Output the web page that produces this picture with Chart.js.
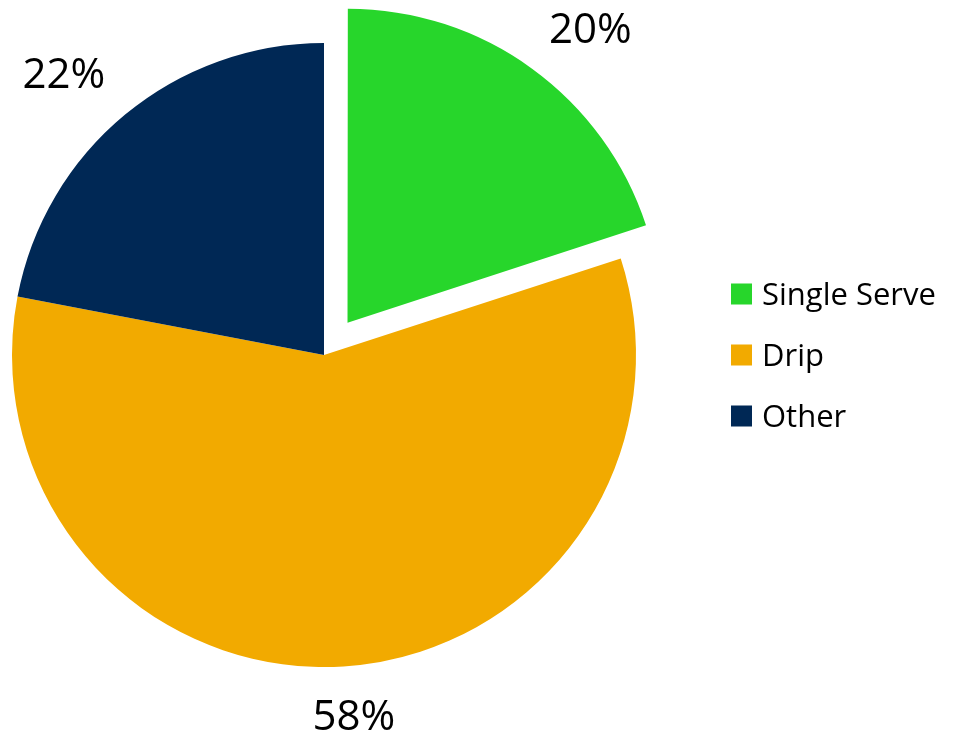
<!DOCTYPE html>
<html>
<head>
<meta charset="utf-8">
<script src="https://cdn.jsdelivr.net/npm/chart.js@4.4.0/dist/chart.umd.min.js"></script>
<style>
  html, body { margin: 0; padding: 0; background: #ffffff; }
  #wrap { width: 953px; height: 735px; position: relative; }
</style>
</head>
<body>
<div id="wrap"><canvas id="c" width="953" height="735"></canvas></div>
<script>
// ---- data ----
const categories = ['Single Serve', 'Drip', 'Other'];
const shareValues = [20, 58, 22];
const sliceColors = ['#27D62B', '#F2AA00', '#002855'];
const explodePx = [40, 0, 0];   // visual explode distance of each slice

const FONT = '"Open Sans", "Liberation Sans", sans-serif';

// Chart.js v4 ArcElement translates an arc by offset/4
const ARC_OFFSET_FACTOR = 4;

const outsideLabels = {
  id: 'outsideLabels',
  afterDatasetsDraw(chart, args, opts) {
    const ctx = chart.ctx;
    const meta = chart.getDatasetMeta(0);
    const total = shareValues.reduce((a, b) => a + b, 0);
    ctx.save();
    ctx.font = opts.size + 'px ' + FONT;
    ctx.fillStyle = opts.color;
    ctx.textAlign = 'left';
    ctx.textBaseline = 'alphabetic';
    meta.data.forEach((arc, i) => {
      const p = arc.getProps(['x', 'y', 'startAngle', 'endAngle', 'outerRadius'], true);
      const mid = (p.startAngle + p.endAngle) / 2;
      const dx = Math.cos(mid), dy = Math.sin(mid);
      const cx = p.x + dx * explodePx[i];
      const cy = p.y + dy * explodePx[i];
      const text = Math.round(shareValues[i] / total * 100) + '%';
      const m = ctx.measureText(text);
      const inkL = -m.actualBoundingBoxLeft;
      const inkR = m.actualBoundingBoxRight;
      const asc = m.actualBoundingBoxAscent;
      const w = inkR - inkL;
      const h = asc;
      const ax = cx + dx * (p.outerRadius + opts.gap);
      const ay = cy + dy * (p.outerRadius + opts.gap);
      const k = opts.k;
      const clamp = v => Math.max(-1, Math.min(1, v));
      const fx = 0.5 - 0.5 * clamp(dx / k);
      const fy = 0.5 - 0.5 * clamp(dy / k);
      const left = ax - fx * w;
      const top = ay - fy * h;
      ctx.fillText(text, left - inkL, top + h);
    });
    ctx.restore();
  }
};

const sideLegend = {
  id: 'sideLegend',
  afterDraw(chart, args, opts) {
    const ctx = chart.ctx;
    const ca = chart.chartArea;
    const midY = (ca.top + ca.bottom) / 2;
    ctx.save();
    ctx.font = opts.size + 'px ' + FONT;
    ctx.textAlign = 'left';
    ctx.textBaseline = 'alphabetic';
    const capH = ctx.measureText('H').actualBoundingBoxAscent;
    const n = categories.length;
    categories.forEach((name, i) => {
      const rowY = midY + (i - (n - 1) / 2) * opts.rowGap;
      ctx.fillStyle = sliceColors[i];
      ctx.fillRect(opts.x, rowY - opts.box / 2, opts.box, opts.box);
      ctx.fillStyle = opts.color;
      ctx.fillText(name, opts.x + opts.box + opts.textGap, rowY + capH / 2);
    });
    ctx.restore();
  }
};

new Chart(document.getElementById('c'), {
  type: 'pie',
  data: {
    labels: categories,
    datasets: [{
      data: shareValues,
      backgroundColor: sliceColors,
      borderWidth: 0,
      offset: explodePx.map(v => v * ARC_OFFSET_FACTOR),
      hoverOffset: 0
    }]
  },
  options: {
    responsive: false,
    animation: false,
    events: [],
    radius: 312,
    layout: { padding: { left: 0, top: 0, right: 305, bottom: 25 } },
    plugins: {
      legend: { display: false },
      tooltip: { enabled: false },
      outsideLabels: { size: 42, color: '#000000', gap: 34, k: 0.3 },
      sideLegend: { x: 731, box: 21, textGap: 10, rowGap: 61, size: 31, color: '#000000' }
    }
  },
  plugins: [outsideLabels, sideLegend]
});
</script>
</body>
</html>
